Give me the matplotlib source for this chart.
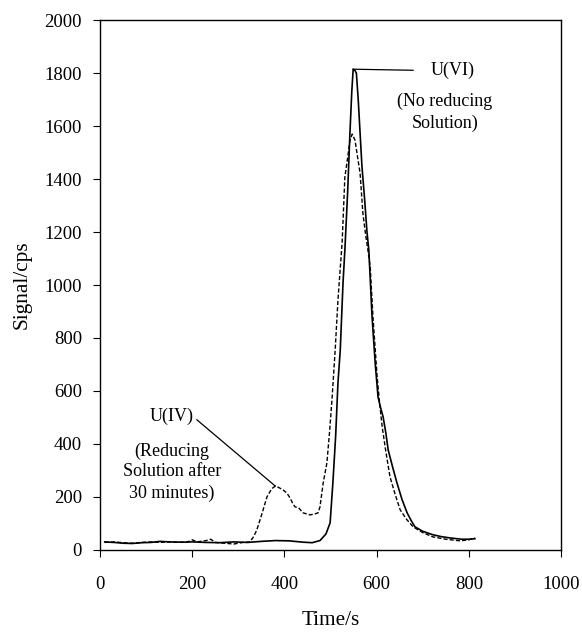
import matplotlib
matplotlib.use("Agg")
import matplotlib.pyplot as plt

plt.rcParams['font.family'] = ['Liberation Serif', 'DejaVu Serif']

# U(VI) - no reducing solution (solid)
t_solid = [10, 30, 50, 70, 90, 110, 130, 150, 180, 200, 230, 260, 290, 320, 350,
           380, 410, 440, 460, 477, 490, 499, 505, 511, 516, 521, 527, 531, 537,
           542, 546, 549, 553, 556, 560, 564, 568, 574, 579, 583, 590, 597, 603,
           608, 614, 620, 625, 635, 644, 655, 666, 675, 683, 700, 722, 740, 759,
           785, 800, 813]
s_solid = [30, 28, 25, 24, 27, 28, 32, 30, 29, 30, 28, 27, 30, 28, 32,
           35, 34, 29, 27, 35, 60, 102, 253, 430, 630, 755, 1008, 1132, 1350,
           1574, 1730, 1815, 1810, 1800, 1700, 1574, 1450, 1321, 1200, 1132, 879, 700, 577,
           540, 502, 440, 377, 310, 253, 190, 140, 110, 87, 70, 57, 50, 45,
           40, 40, 42]

# U(IV) - reducing solution after 30 minutes (dashed)
t_dash = [10, 30, 50, 70, 90, 110, 130, 150, 170, 190, 200, 210, 230, 240, 250,
          270, 290, 310, 325, 333, 340, 350, 362, 372, 380, 388, 397, 405, 412,
          418, 423, 430, 440, 455, 465, 473, 477, 484, 492, 498, 503, 510, 516,
          520, 525, 531, 537, 542, 547, 553, 558, 564, 570, 576, 581, 586, 592,
          601, 606, 612, 620, 629, 640, 651, 665, 679, 700, 722, 750, 781, 800, 813]
s_dash = [28, 30, 27, 25, 28, 30, 28, 30, 28, 30, 38, 30, 35, 40, 28,
          25, 22, 28, 30, 50, 75, 130, 200, 230, 241, 235, 226, 215, 196,
          175, 162, 160, 140, 132, 135, 140, 162, 253, 328, 450, 566, 755, 943,
          1040, 1158, 1408, 1480, 1547, 1570, 1547, 1490, 1423, 1272, 1190, 1132, 1068, 879,
          653, 560, 464, 370, 275, 210, 151, 115, 87, 65, 49, 40, 34, 38, 45]

fig = plt.figure(figsize=(5.82, 6.32), dpi=100)
ax = fig.add_axes([0.172, 0.130, 0.792, 0.838])

ax.plot(t_solid, s_solid, color='black', lw=1.2)
ax.plot(t_dash, s_dash, color='black', lw=1.0, ls=(0, (3, 1.5)))

ax.set_xlim(0, 1000)
ax.set_ylim(0, 2000)
ax.set_xticks(range(0, 1001, 200))
ax.set_yticks(range(0, 2001, 200))
ax.tick_params(direction='out', length=5, width=0.8, labelsize=13.5, pad=8)
ax.tick_params(axis='x', pad=14)
for sp in ax.spines.values():
    sp.set_linewidth(1.0)

ax.set_xlabel('Time/s', fontsize=15.3, labelpad=13)
ax.set_ylabel('Signal/cps', fontsize=15.3, labelpad=9)

# annotations
ax.plot([549, 679], [1815, 1811], color='black', lw=0.9)
ax.text(764, 1811, 'U(VI)', ha='center', va='center', fontsize=13)
ax.text(748, 1652, '(No reducing\nSolution)', ha='center', va='center',
        fontsize=13, linespacing=1.3)

ax.plot([380, 210], [241, 491], color='black', lw=0.9)
ax.text(156, 505, 'U(IV)', ha='center', va='center', fontsize=13)
ax.text(156, 294, '(Reducing\nSolution after\n30 minutes)', ha='center',
        va='center', fontsize=13, linespacing=1.3)

fig.savefig('out.png', dpi=100)
